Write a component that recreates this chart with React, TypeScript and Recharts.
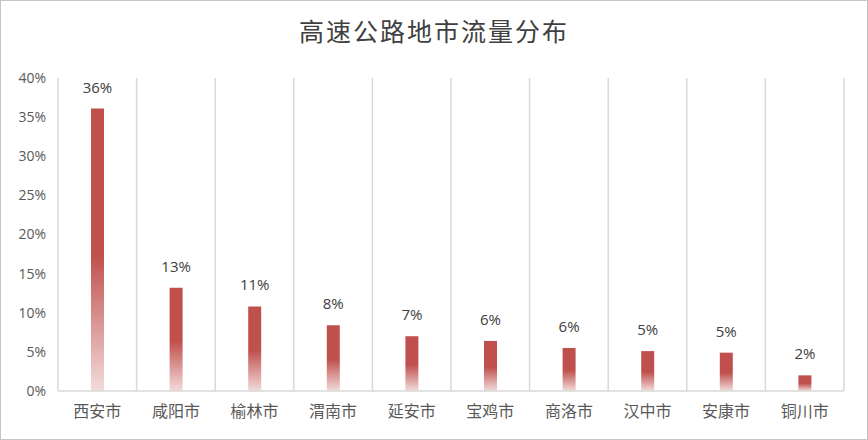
import React from "react";
import { BarChart, Bar, XAxis, YAxis, CartesianGrid, LabelList } from "recharts";

const cities = ["西安市", "咸阳市", "榆林市", "渭南市", "延安市", "宝鸡市", "商洛市", "汉中市", "安康市", "铜川市"];
const shares = [0.361, 0.132, 0.108, 0.084, 0.07, 0.064, 0.055, 0.051, 0.049, 0.02];
const yTicks = [0, 0.05, 0.1, 0.15, 0.2, 0.25, 0.3, 0.35, 0.4];
const title = "高速公路地市流量分布";

const data = cities.map((c, i) => ({ city: c, share: shares[i] }));

const pct = (v: number) => `${Math.round(v * 100)}%`;

const verticalGen = ({ offset }: any) => {
  const n = cities.length;
  const out: number[] = [];
  for (let i = 0; i <= n; i++) out.push(offset.left + (offset.width * i) / n);
  return out;
};

export default function App() {
  return (
    <div
      style={{
        position: "absolute",
        left: 0,
        top: 0,
        width: 868,
        height: 440,
        boxSizing: "border-box",
        border: "1px solid #C4C4C4",
        background: "#fff",
        fontFamily: "'Noto Sans CJK SC', 'Open Sans', sans-serif",
      }}
    >
      <style>{"body{margin:0}"}</style>
      <div
        style={{
          position: "absolute",
          left: 0,
          top: 11,
          width: 866,
          textAlign: "center",
          fontSize: 25,
          color: "#404040",
          letterSpacing: 2,
          fontFamily: "'Noto Sans CJK SC', sans-serif",
          fontWeight: 400,
        }}
      >
        {title}
      </div>
      <div style={{ position: "absolute", left: -1, top: -1 }}>
        <BarChart
          width={868}
          height={440}
          data={data}
          margin={{ top: 78, right: 24, bottom: 19, left: 0 }}
        >
          <defs>
            <linearGradient id="barGrad" x1="0" y1="0" x2="0" y2="1">
              <stop offset="0" stopColor="#C0504D" />
              <stop offset="0.52" stopColor="#C0504D" />
              <stop offset="1" stopColor="#F2DCDB" />
            </linearGradient>
          </defs>
          <CartesianGrid
            horizontal={false}
            vertical
            stroke="#D9D9D9"
            strokeWidth={1.5}
            verticalCoordinatesGenerator={verticalGen}
          />
          <XAxis
            dataKey="city"
            height={30}
            tickLine={false}
            tickSize={0}
            tickMargin={15}
            axisLine={{ stroke: "#D9D9D9", strokeWidth: 1.5 }}
            tick={{ fill: "#595959", fontSize: 16, fontFamily: "'Noto Sans CJK SC', sans-serif" }}
            interval={0}
          />
          <YAxis
            width={58}
            domain={[0, 0.4]}
            ticks={yTicks}
            tickFormatter={pct}
            axisLine={false}
            tickLine={false}
            tickSize={0}
            tickMargin={12}
            tick={{ fill: "#595959", fontSize: 14, fontFamily: "'Open Sans', sans-serif" }}
            interval={0}
          />
          <Bar dataKey="share" fill="url(#barGrad)" barSize={13} isAnimationActive={false}>
            <LabelList
              dataKey="share"
              position="top"
              offset={16}
              formatter={pct}
              style={{ fill: "#404040", fontSize: 15, fontFamily: "'Open Sans', sans-serif" }}
            />
          </Bar>
        </BarChart>
      </div>
    </div>
  );
}
